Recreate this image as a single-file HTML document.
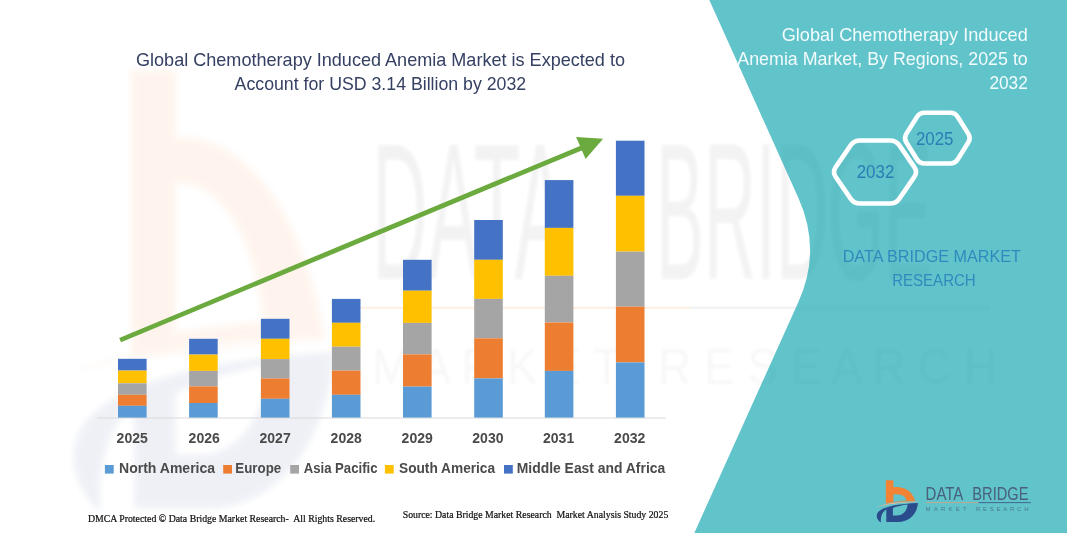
<!DOCTYPE html>
<html lang="en">
<head>
<meta charset="utf-8">
<title>Global Chemotherapy Induced Anemia Market</title>
<style>
html,body{margin:0;padding:0;background:#fff;}
body{width:1067px;height:533px;overflow:hidden;}
svg{display:block;}
text{font-family:"Liberation Sans",sans-serif;}
.serif text, text.serif{font-family:"Liberation Serif",serif;}
</style>
</head>
<body>
<svg width="1067" height="533" viewBox="0 0 1067 533">
<rect width="1067" height="533" fill="#ffffff"/>

<!-- watermark logo -->
<defs><filter id="bl" x="-10%" y="-10%" width="120%" height="120%"><feGaussianBlur stdDeviation="0.5 0.35"/></filter>
<filter id="bl3" x="-10%" y="-10%" width="120%" height="120%"><feGaussianBlur stdDeviation="3"/></filter>
<filter id="bl2" x="-5%" y="-20%" width="110%" height="140%"><feGaussianBlur stdDeviation="1.6"/></filter></defs>
<g opacity="0.075" filter="url(#bl3)">
  <path d="M131 70H176V138C230 130 300 190 325 340C260 338 190 345 131 358Z M176 184V333C200 328 230 324 263 322C255 230 215 180 176 184Z" fill="#F47B20" fill-rule="evenodd"/>
  <path d="M72 372C125 352 220 343 340 343C215 346 130 356 72 372Z" fill="#F47B20"/>
  <g transform="translate(131 352) scale(6.3 8.2) translate(-885.8 -503)">
  <path d="M880.9 522.6C877.5 520 875.8 517 877.2 513.5C880 507.5 895 504 917.9 503C917.5 512 911 521.8 898 522.1H886.3V509.5C883 511.5 880.5 515 880.9 522.6Z M892.9 508C897 506.5 902 505.3 907.5 504.6C907.3 510.5 903 515.5 897 515.5H892.9Z" fill="#2B4C8C" fill-rule="evenodd"/>
  </g>
</g>

<!-- teal panel -->
<path d="M709.3 0 L798.4 198 Q821.8 250 798.4 302 L694.3 533 H1067 V0 Z" fill="#61C4CB"/>

<!-- watermark text (over white and teal) -->
<defs>
<clipPath id="tealclip"><path d="M709.3 0 L798.4 198 Q821.8 250 798.4 302 L694.3 533 H1067 V0 Z"/></clipPath>
<clipPath id="whiteclip"><path d="M709.3 0 L798.4 198 Q821.8 250 798.4 302 L694.3 533 H0 V0 Z"/></clipPath>
</defs>
<g clip-path="url(#whiteclip)"><g fill="#1a1a1a" opacity="0.052" filter="url(#bl2)">
  <text x="372" y="278.6" font-size="195" textLength="194" lengthAdjust="spacingAndGlyphs">DATA</text>
  <text x="656" y="278.6" font-size="195" textLength="276" lengthAdjust="spacingAndGlyphs">BRIDGE</text>
  <text x="372" y="384" font-size="50" fill-opacity="0.6" textLength="625" lengthAdjust="spacingAndGlyphs" xml:space="preserve">M A R K E T   R E S E A R C H</text>
</g>
<rect x="360" y="306.5" width="330" height="2.5" fill="#F47B20" opacity="0.10"/>
<rect x="690" y="306.5" width="130" height="2.5" fill="#1a1a1a" opacity="0.05"/></g>
<g clip-path="url(#tealclip)"><g fill="#0a3a44" opacity="0.032" filter="url(#bl2)">
  <text x="372" y="278.6" font-size="195" textLength="194" lengthAdjust="spacingAndGlyphs">DATA</text>
  <text x="656" y="278.6" font-size="195" textLength="276" lengthAdjust="spacingAndGlyphs">BRIDGE</text>
  <text x="372" y="384" font-size="50" fill-opacity="0.6" textLength="625" lengthAdjust="spacingAndGlyphs" xml:space="preserve">M A R K E T   R E S E A R C H</text>
  <rect x="690" y="306.5" width="300" height="2.5"/></g></g>

<!-- left title -->
<g fill="#354063" font-size="18.5">
  <text x="136" y="65.6" textLength="489" lengthAdjust="spacingAndGlyphs">Global Chemotherapy Induced Anemia Market is Expected to</text>
  <text x="234.6" y="89.5" textLength="291.6" lengthAdjust="spacingAndGlyphs">Account for USD 3.14 Billion by 2032</text>
</g>

<!-- axis -->
<rect x="97.4" y="417.5" width="568.4" height="1" fill="#D9D9D9"/>
<!-- bars -->
<rect x="118.0" y="358.8" width="28.6" height="11.8" fill="#4472C4"/>
<rect x="118.0" y="370.6" width="28.6" height="12.7" fill="#FFC000"/>
<rect x="118.0" y="383.3" width="28.6" height="11.5" fill="#A5A5A5"/>
<rect x="118.0" y="394.8" width="28.6" height="11.0" fill="#ED7D31"/>
<rect x="118.0" y="405.8" width="28.6" height="11.8" fill="#5B9BD5"/>
<rect x="189.1" y="338.8" width="28.6" height="15.8" fill="#4472C4"/>
<rect x="189.1" y="354.6" width="28.6" height="16.3" fill="#FFC000"/>
<rect x="189.1" y="370.9" width="28.6" height="15.5" fill="#A5A5A5"/>
<rect x="189.1" y="386.4" width="28.6" height="16.6" fill="#ED7D31"/>
<rect x="189.1" y="403.0" width="28.6" height="14.6" fill="#5B9BD5"/>
<rect x="260.9" y="318.8" width="28.6" height="20.0" fill="#4472C4"/>
<rect x="260.9" y="338.8" width="28.6" height="20.3" fill="#FFC000"/>
<rect x="260.9" y="359.1" width="28.6" height="19.4" fill="#A5A5A5"/>
<rect x="260.9" y="378.5" width="28.6" height="20.3" fill="#ED7D31"/>
<rect x="260.9" y="398.8" width="28.6" height="18.8" fill="#5B9BD5"/>
<rect x="331.9" y="298.9" width="28.6" height="23.9" fill="#4472C4"/>
<rect x="331.9" y="322.8" width="28.6" height="23.9" fill="#FFC000"/>
<rect x="331.9" y="346.7" width="28.6" height="23.9" fill="#A5A5A5"/>
<rect x="331.9" y="370.6" width="28.6" height="24.2" fill="#ED7D31"/>
<rect x="331.9" y="394.8" width="28.6" height="22.8" fill="#5B9BD5"/>
<rect x="403.0" y="259.8" width="28.6" height="30.9" fill="#4472C4"/>
<rect x="403.0" y="290.7" width="28.6" height="32.2" fill="#FFC000"/>
<rect x="403.0" y="322.9" width="28.6" height="31.5" fill="#A5A5A5"/>
<rect x="403.0" y="354.4" width="28.6" height="32.2" fill="#ED7D31"/>
<rect x="403.0" y="386.6" width="28.6" height="31.0" fill="#5B9BD5"/>
<rect x="474.2" y="220.0" width="28.6" height="39.8" fill="#4472C4"/>
<rect x="474.2" y="259.8" width="28.6" height="39.1" fill="#FFC000"/>
<rect x="474.2" y="298.9" width="28.6" height="39.4" fill="#A5A5A5"/>
<rect x="474.2" y="338.3" width="28.6" height="40.1" fill="#ED7D31"/>
<rect x="474.2" y="378.4" width="28.6" height="39.2" fill="#5B9BD5"/>
<rect x="544.8" y="180.1" width="28.6" height="47.8" fill="#4472C4"/>
<rect x="544.8" y="227.9" width="28.6" height="47.9" fill="#FFC000"/>
<rect x="544.8" y="275.8" width="28.6" height="46.7" fill="#A5A5A5"/>
<rect x="544.8" y="322.5" width="28.6" height="48.4" fill="#ED7D31"/>
<rect x="544.8" y="370.9" width="28.6" height="46.7" fill="#5B9BD5"/>
<rect x="615.9" y="140.7" width="28.6" height="55.1" fill="#4472C4"/>
<rect x="615.9" y="195.8" width="28.6" height="55.8" fill="#FFC000"/>
<rect x="615.9" y="251.6" width="28.6" height="55.1" fill="#A5A5A5"/>
<rect x="615.9" y="306.7" width="28.6" height="55.7" fill="#ED7D31"/>
<rect x="615.9" y="362.4" width="28.6" height="55.2" fill="#5B9BD5"/>
<!-- arrow -->
<line x1="120.1" y1="340.1" x2="582" y2="147.7" stroke="#6BAA3F" stroke-width="4.8"/>
<polygon points="603.1,138.8 576.1,137.1 585.6,159" fill="#6BAA3F"/>

<!-- year labels -->
<g fill="#4A4A4A" font-size="14" font-weight="bold">
<text x="116.6" y="442.7" textLength="31.2" lengthAdjust="spacingAndGlyphs">2025</text>
<text x="188.6" y="442.7" textLength="31.2" lengthAdjust="spacingAndGlyphs">2026</text>
<text x="259.5" y="442.7" textLength="31.2" lengthAdjust="spacingAndGlyphs">2027</text>
<text x="330.6" y="442.7" textLength="31.2" lengthAdjust="spacingAndGlyphs">2028</text>
<text x="401.6" y="442.7" textLength="31.2" lengthAdjust="spacingAndGlyphs">2029</text>
<text x="472.3" y="442.7" textLength="31.2" lengthAdjust="spacingAndGlyphs">2030</text>
<text x="543.0" y="442.7" textLength="31.2" lengthAdjust="spacingAndGlyphs">2031</text>
<text x="614.1" y="442.7" textLength="31.2" lengthAdjust="spacingAndGlyphs">2032</text>
</g>
<!-- legend -->
<rect x="104.9" y="465" width="8.8" height="8.6" fill="#5B9BD5"/>
<rect x="223.2" y="465" width="8.8" height="8.6" fill="#ED7D31"/>
<rect x="290.2" y="465" width="8.8" height="8.6" fill="#A5A5A5"/>
<rect x="384.9" y="465" width="8.8" height="8.6" fill="#FFC000"/>
<rect x="504" y="465" width="8.8" height="8.6" fill="#4472C4"/>
<g fill="#4A4A4A" font-size="14" font-weight="bold">
  <text x="119" y="472.8" textLength="96.1" lengthAdjust="spacingAndGlyphs">North America</text>
  <text x="235.3" y="472.8" textLength="45.9" lengthAdjust="spacingAndGlyphs">Europe</text>
  <text x="303.7" y="472.8" textLength="73.8" lengthAdjust="spacingAndGlyphs">Asia Pacific</text>
  <text x="399" y="472.8" textLength="96.1" lengthAdjust="spacingAndGlyphs">South America</text>
  <text x="516.8" y="472.8" textLength="148.4" lengthAdjust="spacingAndGlyphs">Middle East and Africa</text>
</g>

<!-- footer -->
<g fill="#111" stroke="#111" stroke-width="0.22" font-size="10.1">
  <text class="serif" xml:space="preserve" x="87.9" y="521.9" textLength="287.3" lengthAdjust="spacingAndGlyphs">DMCA Protected © Data Bridge Market Research-  All Rights Reserved.</text>
  <text class="serif" xml:space="preserve" x="402.7" y="517.5" textLength="265.6" lengthAdjust="spacingAndGlyphs">Source: Data Bridge Market Research  Market Analysis Study 2025</text>
</g>

<!-- right title -->
<g fill="#F2FBFC" font-size="18.2">
  <text x="781.7" y="40.6" textLength="246.1" lengthAdjust="spacingAndGlyphs">Global Chemotherapy Induced</text>
  <text x="737.3" y="65" textLength="290.5" lengthAdjust="spacingAndGlyphs">Anemia Market, By Regions, 2025 to</text>
  <text x="989.4" y="89.4" textLength="38.4" lengthAdjust="spacingAndGlyphs">2032</text>
</g>

<!-- hexagons -->
<g fill="none" stroke="#FFFFFF" stroke-width="4.6" stroke-linejoin="round">
  <path d="M835.7 176.9Q832.3 172.0 835.7 167.1L850.6 145.4Q854.0 140.5 860.0 140.5L890.0 140.5Q896.0 140.5 899.4 145.4L914.3 167.1Q917.7 172.0 914.3 176.9L899.4 198.6Q896.0 203.5 890.0 203.5L860.0 203.5Q854.0 203.5 850.6 198.6Z"/>
  <path d="M906.3 142.3Q903.7 138.1 906.3 133.9L916.9 117.0Q919.5 112.8 924.5 112.8L950.2 112.8Q955.2 112.8 957.8 117.0L968.4 133.9Q971.0 138.1 968.4 142.3L957.8 159.3Q955.2 163.5 950.2 163.5L924.5 163.5Q919.5 163.5 916.9 159.3Z"/>
</g>
<g fill="#2A7DB5" font-size="17.8">
  <text x="856.7" y="177.9" textLength="37.6" lengthAdjust="spacingAndGlyphs">2032</text>
  <text x="915.9" y="144.9" textLength="37.6" lengthAdjust="spacingAndGlyphs">2025</text>
</g>

<!-- DBMR text -->
<g fill="#2F8ABD" font-size="16.8">
  <text x="842.7" y="262.4" textLength="178.3" lengthAdjust="spacingAndGlyphs">DATA BRIDGE MARKET</text>
  <text x="892.2" y="286.1" textLength="83.5" lengthAdjust="spacingAndGlyphs">RESEARCH</text>
</g>

<!-- logo -->
<g>
  <path d="M885.8 480.2H893.4V487.2C902.6 485.6 912.5 490 915.2 501.4C906 501.2 894 502 885.8 503.8Z M893.4 494.3V502C898 501.2 902 500.8 906.5 500.5C906 496.5 901.6 493.4 893.4 494.3Z" fill="#F28335" fill-rule="evenodd"/>
  <path d="M876.5 507C885 503.5 900 501.6 919 501.9C900 502.3 886 504.2 876.5 507Z" fill="#F9B48A"/>
  <path d="M880.9 522.6C877.5 520 875.8 517 877.2 513.5C880 507.5 895 504 917.9 503C917.5 512 911 521.8 898 522.1H886.3V509.5C883 511.5 880.5 515 880.9 522.6Z M892.9 508C897 506.5 902 505.3 907.5 504.6C907.3 510.5 903 515.5 897 515.5H892.9Z" fill="#2B4C8C" fill-rule="evenodd"/>
  <g font-size="19.2" fill="#48607A">
  <text x="925.6" y="499.6" textLength="37.7" lengthAdjust="spacingAndGlyphs">DATA</text>
  <text x="972.3" y="499.6" textLength="56.2" lengthAdjust="spacingAndGlyphs">BRIDGE</text>
  </g>
  <rect x="925.6" y="502.2" width="53" height="0.9" fill="#C9A58C"/>
  <rect x="978.5" y="502.2" width="52.3" height="0.9" fill="#3E5C86"/>
  <g font-size="6" fill="#48607A" fill-opacity="0.75">
  <text x="925.6" y="511.4" textLength="41" lengthAdjust="spacing">MARKET</text>
  <text x="975.9" y="511.4" textLength="52.6" lengthAdjust="spacing">RESEARCH</text>
  </g>
</g>
</svg>
</body>
</html>
